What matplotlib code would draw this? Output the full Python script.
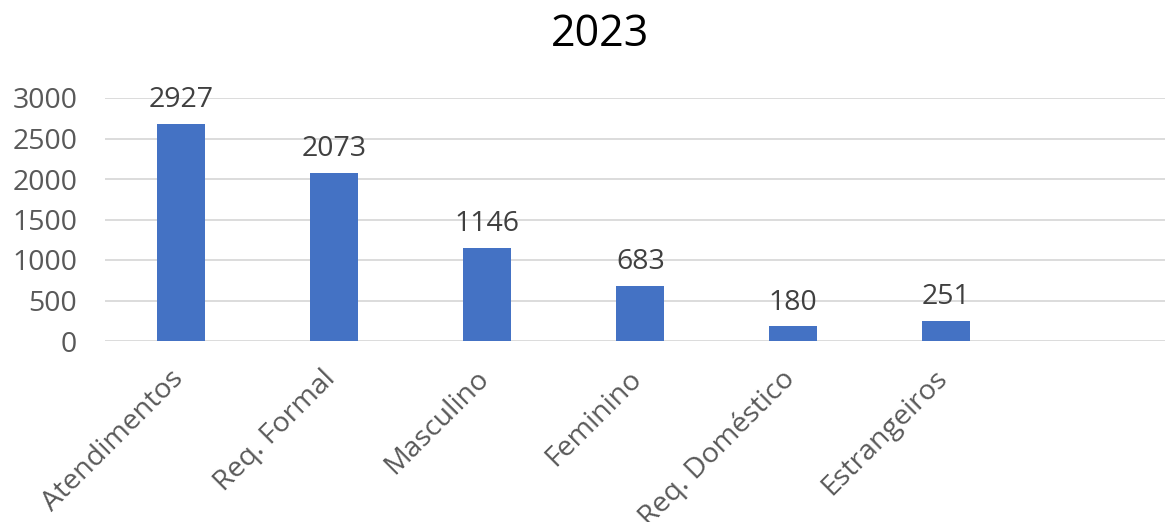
import matplotlib.pyplot as plt
from matplotlib.transforms import ScaledTranslation

categories = ["Atendimentos", "Req. Formal", "Masculino", "Feminino", "Req. Doméstico", "Estrangeiros"]
# bar heights as drawn in the picture (first bar is shorter than its label says)
bar_heights = [2680, 2073, 1146, 683, 180, 251]
bar_labels = ["2927", "2073", "1146", "683", "180", "251"]
y_ticks = [0, 500, 1000, 1500, 2000, 2500, 3000]

plt.rcParams['font.family'] = ['Open Sans', 'DejaVu Sans']

fig = plt.figure(figsize=(11.65, 5.22), dpi=100)
ax = fig.add_axes([105 / 1165, 1 - 341 / 522, 1 - 105 / 1165, (341 - 98) / 522])

x = range(len(categories))
bars = ax.bar(x, bar_heights, width=0.314, color="#4472C4", zorder=3)

for bar, text in zip(bars, bar_labels):
    ax.annotate(text, (bar.get_x() + bar.get_width() / 2, bar.get_height()),
                xytext=(0, 7), textcoords="offset points", ha="center", va="bottom",
                fontsize=20.5, color="#404040")

ax.set_xlim(-0.5, 6.43)
ax.set_ylim(0, 3000)
ax.set_yticks(y_ticks)
ax.set_yticklabels([str(v) for v in y_ticks], fontsize=20.5, color="#595959")
ax.set_xticks(list(x))
ax.set_xticklabels(categories, rotation=45, ha="right", rotation_mode="anchor",
                   fontsize=20.5, color="#595959")
ax.tick_params(axis="y", length=0, pad=20)
ax.tick_params(axis="x", length=0, pad=17)
shift = ScaledTranslation(-9 / 72, 0, fig.dpi_scale_trans)
for lbl in ax.get_xticklabels():
    lbl.set_transform(lbl.get_transform() + shift)

ax.grid(axis="y", color="#d9d9d9", linewidth=1.3, zorder=0)
for side in ["top", "right", "left", "bottom"]:
    ax.spines[side].set_visible(False)

fig.text(600 / 1165, 1 - 35 / 522, "2023", ha="center", va="center", fontsize=31, color="black")

fig.savefig("out.png", dpi=100)
